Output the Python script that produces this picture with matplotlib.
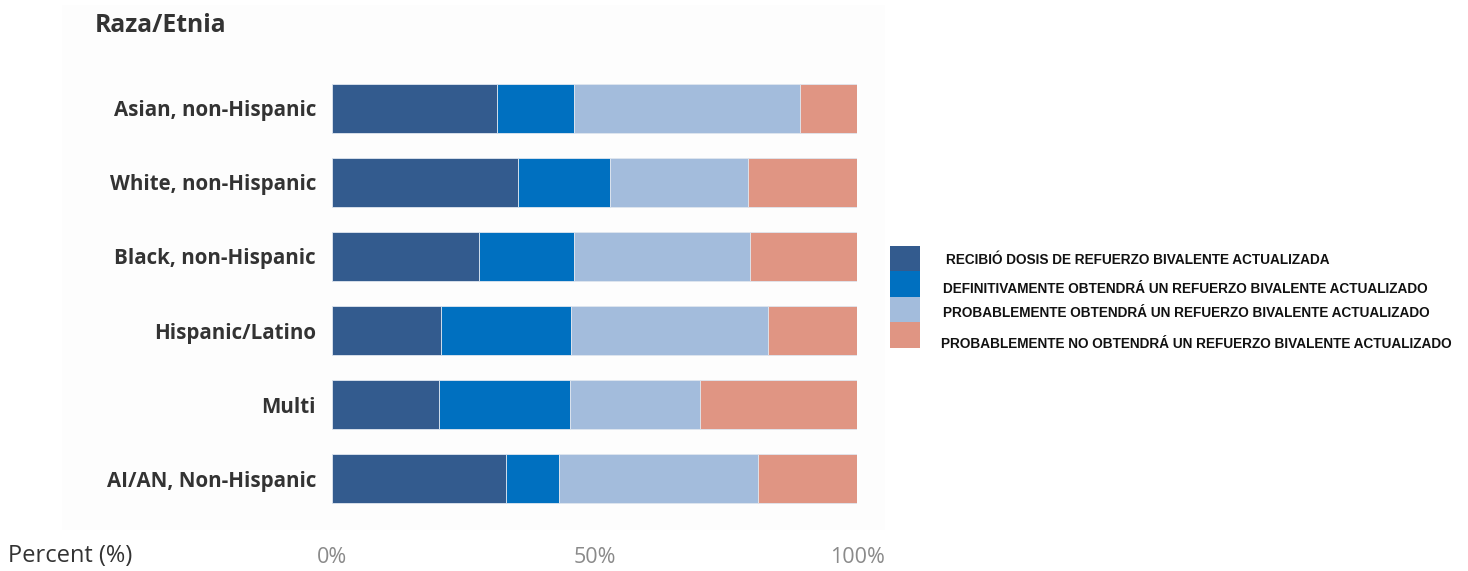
import numpy as np
import matplotlib.pyplot as plt
from matplotlib.patches import Rectangle

# data (percent), top to bottom
groups = ["Asian, non-Hispanic", "White, non-Hispanic", "Black, non-Hispanic",
          "Hispanic/Latino", "Multi", "AI/AN, Non-Hispanic"]
recibio = [31.4, 35.4, 28.0, 20.8, 20.4, 33.1]
definitivamente = [14.7, 17.5, 18.1, 24.7, 24.9, 10.1]
probablemente = [43.0, 26.3, 33.5, 37.5, 24.8, 37.9]
probablemente_no = [10.9, 20.8, 20.4, 17.0, 29.9, 18.9]

legend_labels = ["RECIBIÓ DOSIS DE REFUERZO BIVALENTE ACTUALIZADA",
                 "DEFINITIVAMENTE OBTENDRÁ UN REFUERZO BIVALENTE ACTUALIZADO",
                 "PROBABLEMENTE OBTENDRÁ UN REFUERZO BIVALENTE ACTUALIZADO",
                 "PROBABLEMENTE NO OBTENDRÁ UN REFUERZO BIVALENTE ACTUALIZADO"]
colors = ["#335b8e", "#0070c0", "#a3bcdc", "#e09583"]
ticks = [0, 50, 100]
tick_labels = ["0%", "50%", "100%"]

W, H = 1468, 571
fig = plt.figure(figsize=(W / 100, H / 100), dpi=100)

# faint panel behind the chart
fig.patches.append(Rectangle((62 / W, 1 - 530 / H), (885 - 62) / W, (530 - 5) / H,
                             transform=fig.transFigure, facecolor="#fdfdfd",
                             edgecolor="none", zorder=-5))

ax = fig.add_axes([332 / W, 1 - 516 / H, (857 - 332) / W, (516 - 71) / H])
ax.set_facecolor("none")
ax.set_zorder(2)

y = np.arange(len(groups))
series = [recibio, definitivamente, probablemente, probablemente_no]
left = np.zeros(len(groups))
for vals, c in zip(series, colors):
    ax.barh(y, vals, left=left, height=0.66, color=c, edgecolor="#dfe6ef", linewidth=0.6)
    left += np.array(vals)

ax.set_ylim(len(groups) - 0.5, -0.5)
ax.set_xlim(0, 100)
ax.set_yticks(y)
ax.set_yticklabels(groups, fontsize=14.8, fontweight="bold", color="#333333", family="Open Sans")
ax.set_xticks(ticks)
ax.set_xticklabels(tick_labels, fontsize=15.5, color="#8a8a8a", family="Open Sans")
ax.tick_params(axis="y", length=0, pad=11.5)
ax.tick_params(axis="x", length=0, pad=22)
for s in ax.spines.values():
    s.set_visible(False)

fig.text(95 / W, 1 - 26 / H, "Raza/Etnia", fontsize=17.8, fontweight="bold",
         color="#333333", family="Open Sans", va="center")
fig.text(8 / W, 1 - 556 / H, "Percent (%)", fontsize=17, color="#333333",
         family="Open Sans", va="center")

# legend drawn by hand
box_tops = [246, 271, 297, 322]
text_y = [260, 289, 313, 344]
text_x = [946, 943, 943, 941]
for i in range(4):
    fig.patches.append(Rectangle((890 / W, 1 - (box_tops[i] + 26) / H), 30 / W, 26 / H,
                                 transform=fig.transFigure, facecolor=colors[i],
                                 edgecolor="none"))
    fig.text(text_x[i] / W, 1 - text_y[i] / H, legend_labels[i], fontsize=9.8,
             fontweight="bold", family="Liberation Sans", color="#111111", va="center")

fig.savefig("out.png", dpi=100, facecolor="white")
